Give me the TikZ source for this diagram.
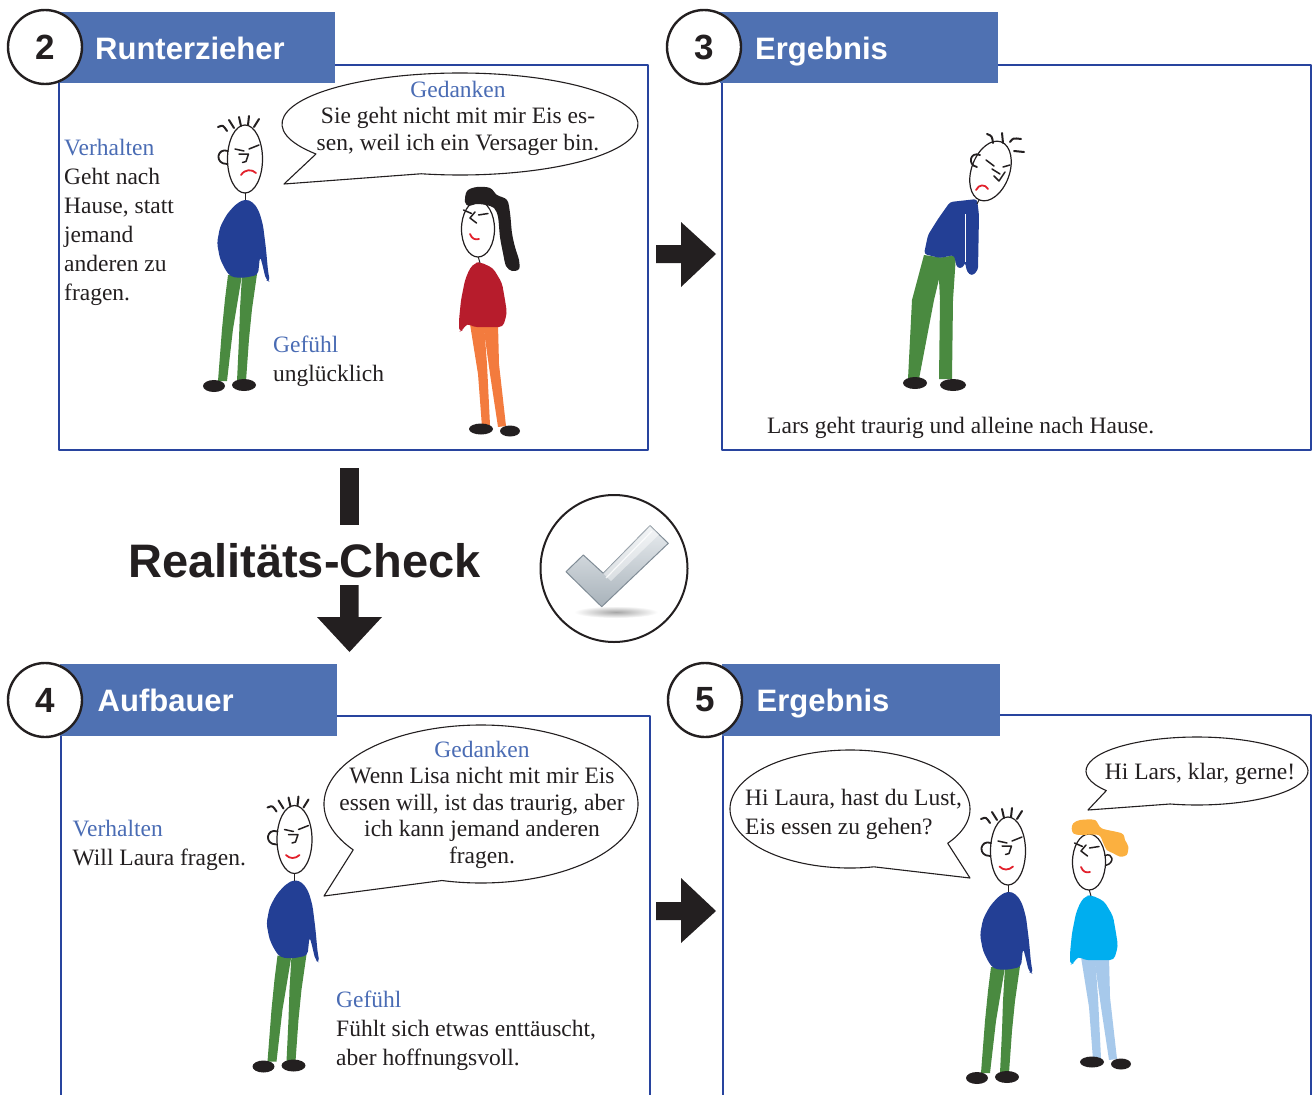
\documentclass[tikz,border=0pt]{standalone}
\usepackage{fontspec}
\setmainfont{Liberation Serif}
\newfontfamily\headfont{Liberation Sans}
\definecolor{hdrblue}{RGB}{79,113,178}
\definecolor{frameblue}{RGB}{40,68,158}
\definecolor{lblue}{RGB}{74,108,180}
\definecolor{ink}{RGB}{35,31,32}
\definecolor{larsblue}{RGB}{35,63,149}
\definecolor{larsgreen}{RGB}{74,138,64}
\definecolor{lisared}{RGB}{183,28,44}
\definecolor{lisaorange}{RGB}{243,123,62}
\definecolor{lauracyan}{RGB}{0,174,239}
\definecolor{laurapants}{RGB}{167,201,235}
\definecolor{laurahair}{RGB}{251,176,64}
\definecolor{mouthred}{RGB}{226,32,43}
\definecolor{checklight}{RGB}{232,236,239}
\definecolor{checkdark}{RGB}{168,178,186}
\definecolor{checkedge}{RGB}{128,140,150}
\begin{document}
\begin{tikzpicture}[x=1pt, y=-1pt, line join=round,
  panelframe/.style={draw=frameblue, line width=2.4pt},
  headbar/.style={fill=hdrblue},
  numring/.style={circle, draw=ink, fill=white, line width=2.4pt, minimum size=74pt,
    inner sep=0pt, text=ink, font=\headfont\bfseries\fontsize{35}{35}\selectfont},
  paneltitle/.style={anchor=base west, inner sep=0pt, text=white,
    font=\headfont\bfseries\fontsize{31}{31}\selectfont},
  % multi-line nodes are anchored at the baseline of their last line
  copytext/.style={anchor=base west, inner sep=0pt, align=left, text=ink,
    font=\fontsize{23.5}{29}\selectfont},
  thought/.style={anchor=base, inner sep=0pt, align=center, text=ink,
    font=\fontsize{23.5}{26.5}\selectfont},
  bubble/.style={draw=ink, fill=white, line width=1.1pt},
  blockarrow/.style={fill=ink},
  mouth/.style={draw=mouthred, line width=1.8pt, line cap=round},
  facestroke/.style={draw=ink, line width=1.5pt, line cap=round},
  spike/.style={draw=ink, line width=2pt, line cap=round},
  larstop/.style={fill=larsblue},
  larspants/.style={fill=larsgreen},
  girltop/.style={fill=lisared},
  girlpants/.style={fill=lisaorange},
  % Lars standing, origin at the centre of his head, facing right
  pics/lars/.style={code={
    \fill[larspants] (-17,116) -- (-3,116) -- (-7,140) -- (-12,170) -- (-18,222) -- (-27,222) -- (-23,170) -- (-20,140) -- cycle;
    \fill[larspants] (-3,116) -- (12,115) -- (7,150) -- (4,180) -- (1,222) -- (-8,222) -- (-6,180) -- (-5,150) -- cycle;
    \fill[ink] (-31,227) ellipse [x radius=11, y radius=6];
    \fill[ink] (-1,226) ellipse [x radius=12, y radius=6];
    \fill[larstop, rounded corners=4pt] (0,40) -- (8,43) -- (14,52) -- (18,66) -- (21,90) -- (23,112) -- (25,123)
      -- (21,121) -- (17,104) -- (15,97) -- (13,116) -- (-2,119) -- (-14,118) -- (-19,112) -- (-25,100)
      -- (-28,84) -- (-25,68) -- (-18,55) -- (-9,45) -- cycle;
    \draw[ink, line width=1pt] (0,33) -- (0,41);
    \draw[ink, fill=white, line width=1.2pt] (0,0) ellipse [x radius=17.5, y radius=34];
    \draw[spike] (-18,-28) .. controls (-22,-34) .. (-27,-32);
    \draw[spike] (-11,-31) -- (-16,-39);
    \draw[spike] (-4,-33) -- (-6,-42);
    \draw[spike] (3,-34) -- (4,-43);
    \draw[spike] (9,-32) -- (14,-40);
    \draw[ink, line width=1.8pt, line cap=round] (-17,-8) .. controls (-28,-12) and (-31,5) .. (-18,5);
    \draw[facestroke] (-10,-10) -- (-1,-8);
    \draw[facestroke] (-6,-5) -- (3.5,-5) -- (1,2.5) -- (-2.5,3.5);
    \draw[facestroke] (4,-10) -- (14,-14);
  }},
  % girl standing, origin at the centre of her head, facing left
  pics/girl/.style={code={
    \fill[girlpants] (-8,95) -- (6,95) -- (9,135) -- (12,196) -- (4,198) -- (0,145) -- cycle;
    \fill[girlpants] (5,95) -- (20,95) -- (21,135) -- (28,197) -- (20,198) -- (12,145) -- cycle;
    \fill[ink] (3,200) ellipse [x radius=12, y radius=5.5];
    \fill[ink] (32,202) ellipse [x radius=10, y radius=5.5];
    \fill[girltop, rounded corners=4pt] (2,33) -- (15,39) -- (24,54) -- (27,71) -- (29,84) -- (25,98) -- (17,98)
      -- (-5,98) -- (-11,94) -- (-15,101) -- (-19,103) -- (-19,91) -- (-17,71) -- (-13,51) -- (-8,39) -- (-3,34) -- cycle;
    \draw[ink, line width=1pt] (0,27) -- (2,34);
    \draw[ink, fill=white, line width=1.2pt] (0,0) ellipse [x radius=16.5, y radius=28];
    \draw[facestroke] (-14.5,-19) -- (-6.5,-15.5);
    \draw[facestroke] (-3,-17) -- (-8,-11) -- (-1.5,-6);
    \draw[facestroke] (0.5,-14) -- (10,-15.5);
    \draw[mouth] (-8,5) .. controls (-6,10) and (-3,11) .. (1,10);
  }}
]
\useasboundingbox (0,0) rectangle (1312,1095);

% ---------- panel frames ----------
\draw[panelframe] (59,65) rectangle (648,450);
\draw[panelframe] (722,65) rectangle (1310.8,450);
\draw[panelframe] (61,1097) -- (61,716) -- (650,716) -- (650,1097);
\draw[panelframe] (723,1097) -- (723,715) -- (1310.8,715) -- (1310.8,1097);

% ---------- header bars ----------
\fill[headbar] (59,12) rectangle (335,83);
\fill[headbar] (720,12) rectangle (998,83);
\fill[headbar] (60,664) rectangle (337,736);
\fill[headbar] (722,664) rectangle (1000,736);

\node[numring] (n2) at (45,47) {2};
\node[numring] (n3) at (704,47) {3};
\node[numring] (n4) at (45,700) {4};
\node[numring] (n5) at (705,700) {5};

\node[paneltitle] (t2) at (95,59.5) {Runterzieher};
\node[paneltitle] (t3) at (755,59.5) {Ergebnis};
\node[paneltitle] (t4) at (97.5,711.5) {Aufbauer};
\node[paneltitle] (t5) at (756.5,711.5) {Ergebnis};

% ---------- block arrows ----------
\fill[blockarrow] (656,245) -- (681,245) -- (681,222) -- (716,254) -- (681,287) -- (681,263) -- (656,263) -- cycle;
\fill[blockarrow] (656,902) -- (681,902) -- (681,878) -- (716,911) -- (681,943) -- (681,920) -- (656,920) -- cycle;
\fill[blockarrow] (340,468) rectangle (358.5,525);
\fill[blockarrow] (340,585) -- (358.5,585) -- (358.5,617) -- (382,617) -- (349.5,652) -- (317,617) -- (340,617) -- cycle;

\node[anchor=base, inner sep=0pt, text=ink, font=\headfont\bfseries\fontsize{47}{47}\selectfont]
  (realcheck) at (304.5,577.5) {Realitäts-Check};

% ---------- check mark badge ----------
\node[circle, draw=ink, fill=white, line width=2pt, minimum size=147pt, inner sep=0pt] (checkring) at (614,568.5) {};
\shade[inner color=black!35, outer color=white] (616,612) ellipse [x radius=42, y radius=6];
\shadedraw[draw=checkedge, line width=1pt, top color=checklight, bottom color=checkdark]
  (566,571.7) -- (583.3,555) -- (603.3,573.3) -- (650,525.7) -- (668.3,543.3) -- (601.7,606.7) -- cycle;
\fill[white, opacity=0.45] (603.3,573.3) -- (650,525.7) -- (659,534.5) -- (611,581) -- cycle;
\draw[white, line width=1.2pt, opacity=0.8] (606,578) -- (652,531);

% ---------- panel 2 figures ----------
\begin{scope}[shift={(245,159)}]
  \pic (larsA) at (0,0) {lars};
  \draw[mouth] (-4,16) .. controls (0,10) and (7,10) .. (11,14);
\end{scope}
\begin{scope}[shift={(478,229)}, girltop/.style={fill=lisared}, girlpants/.style={fill=lisaorange}]
  \pic (lisa) at (0,0) {girl};
  \fill[ink] plot[smooth cycle, tension=0.55] coordinates {(-11,-38) (-1,-42) (12,-41) (19,-34) (29,-29) (32,-16)
    (34,4) (37,18) (41,31) (41,40) (34,42) (28,37) (25,24) (22,8) (20,-12) (16,-21) (8,-24) (-2,-25) (-9,-23) (-13,-27)};
\end{scope}

% ---------- panel 3 figure: Lars bent over ----------
\fill[larsgreen] (924,255) -- (944,258) -- (934,300) -- (919,379) -- (908,379) -- (912,300) -- cycle;
\fill[larsgreen] (938,258) -- (956,255) -- (953,300) -- (952,379) -- (939,379) -- (940,300) -- cycle;
\fill[ink] (915,383) ellipse [x radius=12, y radius=6];
\fill[ink] (953,385) ellipse [x radius=13, y radius=6];
\fill[larsblue, rounded corners=3pt] (950,202) -- (977,199) -- (979,215) -- (978,270) -- (972,276) -- (967,272)
  -- (965,262) -- (963,268) -- (957,268) -- (954,255) -- (940,258) -- (924,254) -- (928,235) -- (938,219) -- cycle;
\draw[white, line width=0.8pt] (965.6,214) -- (965.6,262);
\draw[ink, line width=1pt] (979,200) -- (977,204);
\begin{scope}[shift={(990.5,171)}, rotate=-20]
  \draw[ink, fill=white, line width=1.2pt] (0,0) ellipse [x radius=19, y radius=31];
\end{scope}
\draw[spike] (993,143) .. controls (992,136) .. (987,134);
\draw[spike] (1002,133) -- (1003,143);
\draw[spike] (1010,142) .. controls (1013,138) .. (1021,139);
\draw[spike] (1014,151) -- (1024,152);
\draw[ink, line width=1.8pt, line cap=round] (980,155) .. controls (970,151) and (967,165) .. (977,167);
\draw[facestroke] (986,160) -- (994,166);
\draw[facestroke] (992,169) -- (1000,174);
\draw[facestroke] (994,176) -- (999,181) -- (1005,172);
\draw[facestroke] (1003,167) -- (1010,165);
\draw[mouth] (976,190) .. controls (979,184) and (985,184) .. (988,189);

% ---------- panel 4 figure ----------
\begin{scope}[shift={(294.5,839.5)}]
  \pic (larsB) at (0,0) {lars};
  \draw[mouth] (-8.5,15.5) .. controls (-5,19.5) and (1,19.5) .. (5,15.5);
\end{scope}

% ---------- panel 5 figures ----------
\begin{scope}[shift={(1008,851)}]
  \pic (larsC) at (0,0) {lars};
  \draw[mouth] (-8.5,15.5) .. controls (-5,19.5) and (1,19.5) .. (5,15.5);
\end{scope}
\begin{scope}[shift={(1089,862)}, yscale=1.09, girltop/.style={fill=lauracyan}, girlpants/.style={fill=laurapants}]
  \pic (laura) at (0,0) {girl};
  \draw[ink, line width=1.5pt, line cap=round] (16,-6) .. controls (24,-9) and (26,1) .. (17,3);
  \fill[laurahair] plot[smooth cycle, tension=0.5] coordinates {(-15.7,-35.5) (-9,-38.5) (6,-38.5) (12.7,-30.9)
    (32.7,-26.3) (36,-20.2) (39.3,-14) (37.7,-6.4) (31,-4.9) (24.3,-8) (17.7,-11) (14.3,-17.2) (9.3,-24.8)
    (-9,-24.8) (-15.7,-26.3) (-17.3,-30.9)};
\end{scope}

% ---------- speech bubbles ----------
\draw[bubble] ([shift={(460,124)}]144:178 and 51) arc[start angle=144, end angle=462.6, x radius=178, y radius=51]
  -- (284,184) -- cycle;
\draw[bubble] ([shift={(481,804)}]144.5:157 and 79) arc[start angle=144.5, end angle=464.4, x radius=157, y radius=79]
  -- (324,896) -- cycle;
\draw[bubble] ([shift={(850,809)}]78.5:120 and 59) arc[start angle=78.5, end angle=395.5, x radius=120, y radius=59]
  -- (970,878) -- cycle;
\draw[bubble] ([shift={(1197,771)}]144.8:111 and 34) arc[start angle=144.8, end angle=464, x radius=111, y radius=34]
  -- (1088,810) -- cycle;

% ---------- texts ----------
\node[copytext] (verh2) at (64,300) {\textcolor{lblue}{Verhalten}\\Geht nach\\Hause, statt\\jemand\\anderen zu\\fragen.};
\node[copytext] (gef2) at (273,381) {\textcolor{lblue}{Gefühl}\\unglücklich};
\node[thought] (ged2) at (458,150) {\textcolor{lblue}{Gedanken}\\Sie geht nicht mit mir Eis es-\\sen, weil ich ein Versager bin.};

\node[copytext] (res3) at (767,433) {Lars geht traurig und alleine nach Hause.};

\node[copytext] (verh4) at (72.5,865) {\textcolor{lblue}{Verhalten}\\Will Laura fragen.};
\node[copytext] (gef4) at (336,1065) {\textcolor{lblue}{Gefühl}\\Fühlt sich etwas enttäuscht,\\aber hoffnungsvoll.};
\node[thought] (ged4) at (482,863) {\textcolor{lblue}{Gedanken}\\Wenn Lisa nicht mit mir Eis\\essen will, ist das traurig, aber\\ich kann jemand anderen\\fragen.};

\node[copytext] (say5a) at (745,834) {Hi Laura, hast du Lust,\\Eis essen zu gehen?};
\node[thought] (say5b) at (1200,779) {Hi Lars, klar, gerne!};
\end{tikzpicture}
\end{document}
